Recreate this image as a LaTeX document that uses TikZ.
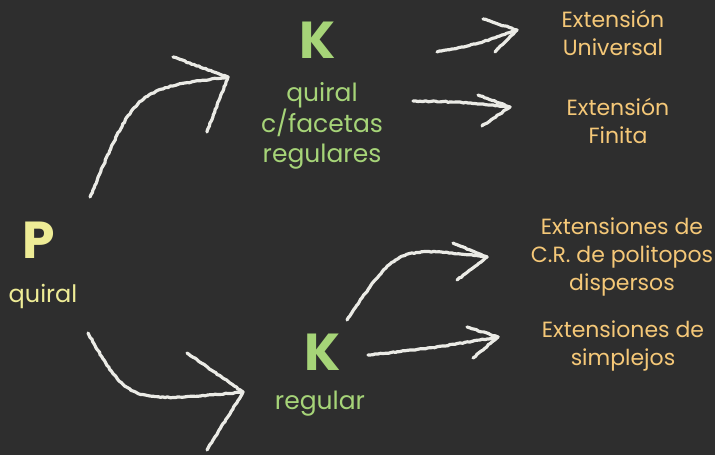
\documentclass[tikz,border=0pt]{standalone}
\usepackage{fontspec}
\setmainfont{Poppins}
\usetikzlibrary{decorations.pathmorphing}
\definecolor{board}{RGB}{46,46,46}
\definecolor{chalk}{RGB}{235,235,230}
\definecolor{kgreen}{RGB}{166,212,120}
\definecolor{pyellow}{RGB}{238,236,150}
\definecolor{torange}{RGB}{245,200,120}
\tikzset{
  chalkline/.style={draw=chalk, line width=3.2pt, line cap=round, line join=round,
    decorate, decoration={random steps, segment length=2.5pt, amplitude=0.5pt}},
  bigletter/.style={font=\fontsize{52}{52}\selectfont\bfseries, inner sep=0pt},
  greentxt/.style={text=kgreen, align=center, font=\fontsize{25}{30}\selectfont, inner sep=0pt},
  yellowtxt/.style={text=pyellow, align=center, font=\fontsize{24}{30}\selectfont, inner sep=0pt},
  orangetxt/.style={text=torange, align=center, font=\fontsize{22}{28}\selectfont, inner sep=0pt}
}
\begin{document}
\begin{tikzpicture}[x=1pt,y=-1pt]
\fill[board] (0,0) rectangle (715,455);
\useasboundingbox (0,0) rectangle (715,455);
% nodes
\node[bigletter, text=pyellow] (P) at (39,240) {P};
\node[yellowtxt] (Pq) at (43,296) {quiral};
\node[bigletter, text=kgreen] (K1) at (318,40) {K};
\node[greentxt] (K1t) at (322,126) {quiral\\c/facetas\\regulares};
\node[bigletter, text=kgreen] (K2) at (323,352) {K};
\node[greentxt] (K2t) at (320,404) {regular};
\node[orangetxt] (E1) at (613,33) {Extensión\\Universal};
\node[orangetxt] (E2) at (618,121) {Extensión\\Finita};
\node[orangetxt] (E3) at (622,257) {Extensiones de\\C.R. de politopos\\dispersos};
\node[orangetxt] (E4) at (623,346) {Extensiones de\\simplejos};
% arrow end points
\coordinate (a1s) at (90,197);  \coordinate (a1t) at (228,77);
\coordinate (a1b) at (173,57);  \coordinate (a1c) at (207,132);
\coordinate (a2s) at (88,333);  \coordinate (a2t) at (243,392);
\coordinate (a2b) at (187,353); \coordinate (a2c) at (207,450);
\coordinate (a3s) at (437,52);  \coordinate (a3t) at (517,30);
\coordinate (a3b) at (483,19);  \coordinate (a3c) at (495,52);
\coordinate (a4s) at (413,101); \coordinate (a4t) at (510,107);
\coordinate (a4b) at (478,95);  \coordinate (a4c) at (482,126);
\coordinate (a5s) at (347,320); \coordinate (a5t) at (487,257);
\coordinate (a5b) at (453,243); \coordinate (a5c) at (457,280);
\coordinate (a6s) at (368,355); \coordinate (a6t) at (498,337);
\coordinate (a6b) at (467,327); \coordinate (a6c) at (473,358);
% arrows
\draw[chalkline] (a1s) .. controls (135,89) .. (a1t);
\draw[chalkline] (a1b) -- (a1t) -- (a1c);
\draw[chalkline] (a2s) .. controls (128,403) .. (a2t);
\draw[chalkline] (a2b) -- (a2t) -- (a2c);
\draw[chalkline] (a3s) .. controls (478,44) .. (a3t);
\draw[chalkline] (a3b) -- (a3t) -- (a3c);
\draw[chalkline] (a4s) .. controls (462,102) .. (a4t);
\draw[chalkline] (a4b) -- (a4t) -- (a4c);
\draw[chalkline] (a5s) .. controls (397,246) .. (a5t);
\draw[chalkline] (a5b) -- (a5t) -- (a5c);
\draw[chalkline] (a6s) .. controls (433,348) .. (a6t);
\draw[chalkline] (a6b) -- (a6t) -- (a6c);
\end{tikzpicture}
\end{document}
